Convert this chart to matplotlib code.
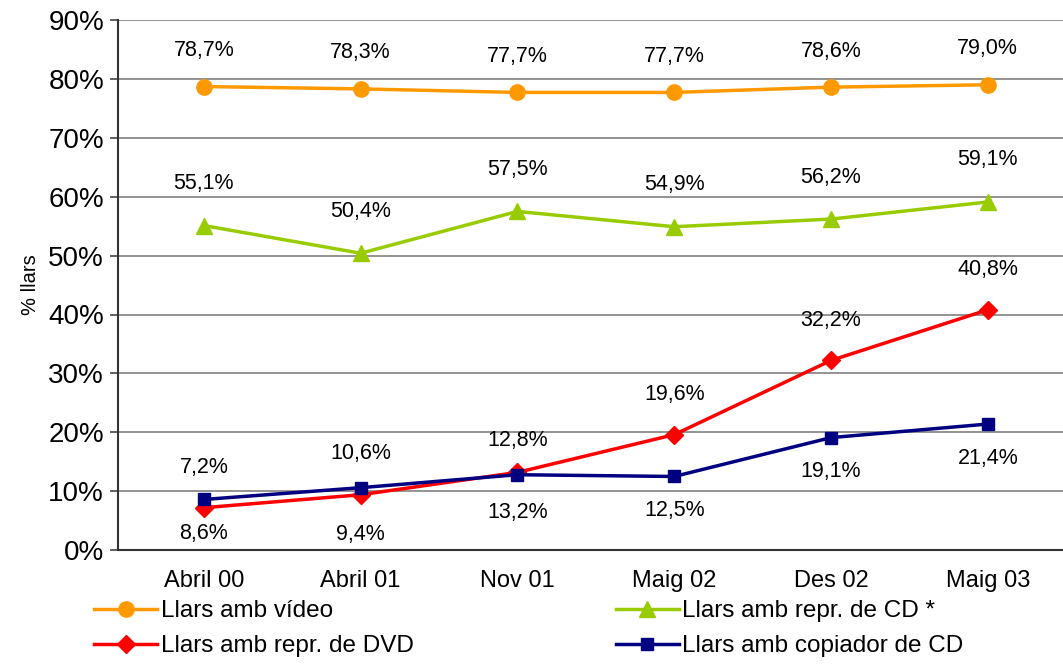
import matplotlib.pyplot as plt

plt.rcParams['font.family'] = ['Liberation Sans', 'DejaVu Sans']

periods = ["Abril 00", "Abril 01", "Nov 01", "Maig 02", "Des 02", "Maig 03"]
video = [78.7, 78.3, 77.7, 77.7, 78.6, 79.0]
cd_player = [55.1, 50.4, 57.5, 54.9, 56.2, 59.1]
dvd_player = [7.2, 9.4, 13.2, 19.6, 32.2, 40.8]
cd_copier = [8.6, 10.6, 12.8, 12.5, 19.1, 21.4]
y_ticks = [0, 10, 20, 30, 40, 50, 60, 70, 80, 90]

fig = plt.figure(figsize=(10.63, 6.66), dpi=100)
ax = fig.add_axes([0.111, 0.174, 0.889, 0.796])

x = list(range(len(periods)))

# name, values, colour, marker, marker size, label side (+1 above / -1 below), label offset px
series = [
    ("Llars amb vídeo", video, "#FF9900", "o", 11, [1, 1, 1, 1, 1, 1], 36),
    ("Llars amb repr. de CD *", cd_player, "#99CC00", "^", 12, [1, 1, 1, 1, 1, 1], 42),
    ("Llars amb repr. de DVD", dvd_player, "#FF0000", "D", 9, [1, -1, -1, 1, 1, 1], 40),
    ("Llars amb copiador de CD", cd_copier, "#000080", "s", 8, [-1, 1, 1, -1, -1, -1], 34),
]

lines = {}
for name, vals, col, mk, ms, sides, off in series:
    lines[name], = ax.plot(x, vals, color=col, marker=mk, markersize=ms, linewidth=2.5,
                           label=name, zorder=3)
    for xi, v, s in zip(x, vals, sides):
        txt = f"{v:.1f}%".replace(".", ",")
        ax.annotate(txt, (xi, v), xytext=(0, s * off), textcoords="offset pixels",
                    ha="center", va="center", fontsize=15.5, color="black")

ax.set_xlim(-0.548, 5.48)
ax.set_ylim(0, 90)
ax.set_yticks(y_ticks)
ax.set_yticklabels([f"{t}%" for t in y_ticks], fontsize=20)
ax.set_xticks(x)
ax.set_xticklabels(periods, fontsize=17)
ax.tick_params(axis="x", length=0, pad=14)
ax.tick_params(axis="y", length=6, width=1.2, color="#444444", pad=4)
ax.set_ylabel("% llars", fontsize=14.5, labelpad=6)

ax.grid(axis="y", color="#808080", linewidth=1.2)
ax.set_axisbelow(True)
for side in ["top", "right"]:
    ax.spines[side].set_visible(False)
ax.spines["left"].set_color("#333333")
ax.spines["left"].set_linewidth(1.5)
ax.spines["bottom"].set_color("#333333")
ax.spines["bottom"].set_linewidth(1.5)

# legend filled row by row like the original
order = ["Llars amb vídeo", "Llars amb repr. de DVD", "Llars amb repr. de CD *", "Llars amb copiador de CD"]
fig.legend([lines[n] for n in order], order, loc="lower left", bbox_to_anchor=(0.068, -0.02), ncol=2,
           frameon=False, fontsize=17.5, handlelength=2.6, handletextpad=0.15,
           columnspacing=8.3, labelspacing=0.55)

fig.savefig("out.png", dpi=100)
